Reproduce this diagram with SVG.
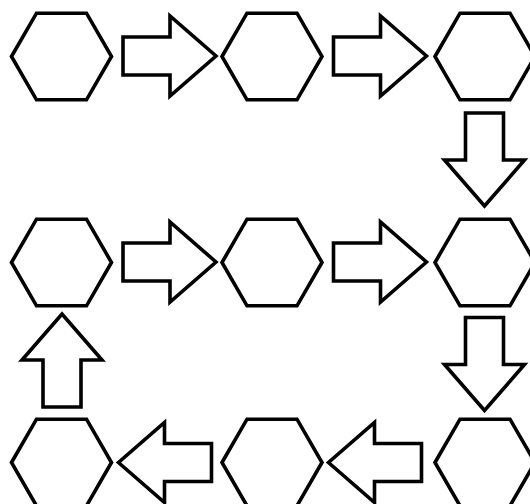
<svg xmlns="http://www.w3.org/2000/svg" width="530" height="504" viewBox="0 0 530 504">
<defs>
<style>
.hex{fill:#fff;stroke:#000;stroke-width:3.6;stroke-linejoin:miter}
.arr{fill:#fff;stroke:#000;stroke-width:3.6;stroke-linejoin:miter}
</style>
<polygon id="hexshape" points="-50,0 -25,-43.3 25,-43.3 50,0 25,43.3 -25,43.3"/>
<polygon id="arrR" points="0,-19 47,-19 47,-40 93,0 47,40 47,19 0,19"/>
</defs>
<rect width="530" height="504" fill="#fff"/>
<g id="n1"><use href="#hexshape" class="hex" transform="translate(61.5,56.5)"/></g>
<g id="n2"><use href="#hexshape" class="hex" transform="translate(272,56.5)"/></g>
<g id="n3"><use href="#hexshape" class="hex" transform="translate(485,56.5)"/></g>
<g id="n4"><use href="#hexshape" class="hex" transform="translate(485,262.5)"/></g>
<g id="n5"><use href="#hexshape" class="hex" transform="translate(272,262.5)"/></g>
<g id="n6"><use href="#hexshape" class="hex" transform="translate(61.5,262.5)"/></g>
<g id="n7"><use href="#hexshape" class="hex" transform="translate(485,462.5)"/></g>
<g id="n8"><use href="#hexshape" class="hex" transform="translate(272,462.5)"/></g>
<g id="n9"><use href="#hexshape" class="hex" transform="translate(61.5,462.5)"/></g>
<g id="connectors">
<use href="#arrR" class="arr" transform="translate(123,56)"/>
<use href="#arrR" class="arr" transform="translate(333.5,56)"/>
<use href="#arrR" class="arr" transform="translate(484.5,113) rotate(90)"/>
<use href="#arrR" class="arr" transform="translate(123,262)"/>
<use href="#arrR" class="arr" transform="translate(333.5,262)"/>
<use href="#arrR" class="arr" transform="translate(484.5,317.5) rotate(90)"/>
<use href="#arrR" class="arr" transform="translate(421.5,462.5) rotate(180)"/>
<use href="#arrR" class="arr" transform="translate(211.5,462.5) rotate(180)"/>
<use href="#arrR" class="arr" transform="translate(62,407) rotate(-90)"/>
</g>
</svg>
